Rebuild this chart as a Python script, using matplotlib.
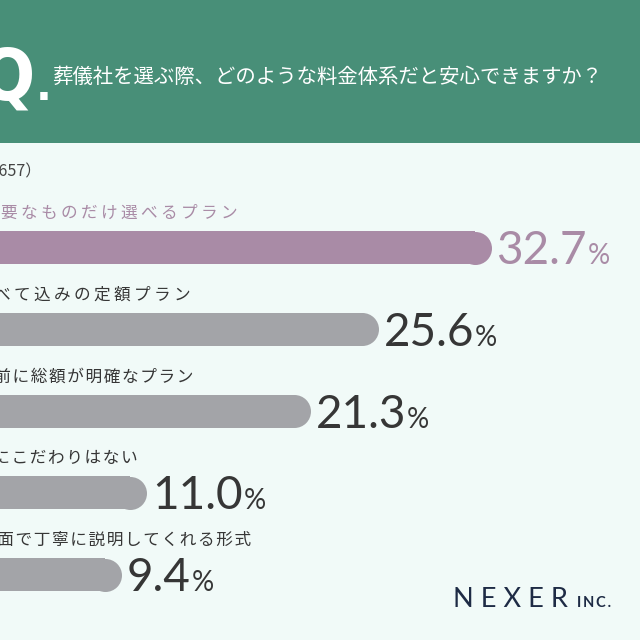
import matplotlib
matplotlib.use("Agg")
import matplotlib.pyplot as plt

plt.rcParams['font.family'] = ['Noto Sans CJK JP', 'DejaVu Sans']

# ---------------- data ----------------
title = "葬儀社を選ぶ際、どのような料金体系だと安心できますか？"
sample_note = "（n=1657）"
categories = [
    "必要なものだけ選べるプラン",
    "すべて込みの定額プラン",
    "事前に総額が明確なプラン",
    "特にこだわりはない",
    "対面で丁寧に説明してくれる形式",
]
values = [32.7, 25.6, 21.3, 11.0, 9.4]
highlight = [True, False, False, False, False]
brand = "NEXER"
brand_suffix = "INC."

# ---------------- style ----------------
W = H = 640
BG = "#F1FAF8"
HEADER = "#488F78"
PURPLE = "#A98BA6"
GRAY = "#A3A4A8"
DARK = "#363636"
NAVY = "#1E2B45"
THIN = "\u2009"
HAIR = "\u200a"

def spaced(s, sep=THIN):
    return sep.join(s)

fig = plt.figure(figsize=(W / 100, H / 100), dpi=100)
fig.patch.set_facecolor(BG)

def fx(px):
    return px / W

def fy(py):
    return 1 - py / H

# header band
fig.patches.append(plt.Rectangle((0, fy(143)), 1, 143 / H, transform=fig.transFigure,
                                 facecolor=HEADER, edgecolor="none", zorder=0))
fig.text(fx(35), fy(100), "Q", color="white", fontsize=52, fontweight="bold",
         family="DejaVu Sans", fontstretch="condensed", ha="right", va="baseline")
fig.text(fx(36), fy(100), ".", color="white", fontsize=30, fontweight="bold",
         family="DejaVu Sans", ha="left", va="baseline")
fig.text(fx(52), fy(77), title, color="white", fontsize=14.7, ha="left", va="center")

fig.text(fx(42), fy(172), sample_note, color="#444444", fontsize=11.5, ha="right", va="center")

# ---------------- axes (data scale) ----------------
ax = fig.add_axes([0, 0, 1, 1])
ax.set_facecolor("none")
px_per_unit = 15.87
x_zero_px = -27.6
ax.set_xlim((0 - x_zero_px) / px_per_unit, (W - x_zero_px) / px_per_unit)
row0_px, row_step_px = 247.5, 81.75
ax.set_ylim((H - row0_px) / row_step_px, (0 - row0_px) / row_step_px)
ax.axis("off")

bar_h_px = 33
bar_h = bar_h_px / row_step_px
r_data = (bar_h_px / 2) / px_per_unit
label_right_px = [238, 191, 193, 138, 251]
label_sep = [THIN, THIN, HAIR, HAIR, HAIR]

fig.canvas.draw()
renderer = fig.canvas.get_renderer()

for i, (cat, v, hl) in enumerate(zip(categories, values, highlight)):
    col = PURPLE if hl else GRAY
    ax.barh(i, v - r_data, left=0, height=bar_h, color=col, edgecolor="none", zorder=2)
    ax.scatter([v - r_data], [i], s=(bar_h_px * 0.72) ** 2, color=col, linewidths=0, zorder=2)

    # category label above bar
    lab_y_px = row0_px + i * row_step_px - 34
    fig.text(fx(label_right_px[i]), fy(lab_y_px), spaced(cat, label_sep[i]),
             color=(PURPLE if hl else DARK), fontsize=12, ha="right", va="center")

    # value label
    num_color = PURPLE if hl else DARK
    t = ax.text(v + 5 / px_per_unit, i + bar_h / 2, f"{v:.1f}", color=num_color,
                fontsize=33, family="Lato", ha="left", va="baseline", zorder=3)
    bb = t.get_window_extent(renderer=renderer)
    x_end, _ = ax.transData.inverted().transform((bb.x1, bb.y0))
    ax.text(x_end + 1 / px_per_unit, i + bar_h / 2, "%", color=num_color,
            fontsize=20, family="Lato", ha="left", va="baseline", zorder=3)

# brand
fig.text(fx(453), fy(607), spaced(brand, " "), color=NAVY, fontsize=19.5,
         family=["Lato", "DejaVu Sans"], ha="left", va="baseline")
fig.text(fx(577), fy(607), spaced(brand_suffix, THIN), color=NAVY, fontsize=10.5,
         family=["Lato", "DejaVu Sans"], fontweight="bold", ha="left", va="baseline")

fig.savefig("out.png", dpi=100, facecolor=BG)
